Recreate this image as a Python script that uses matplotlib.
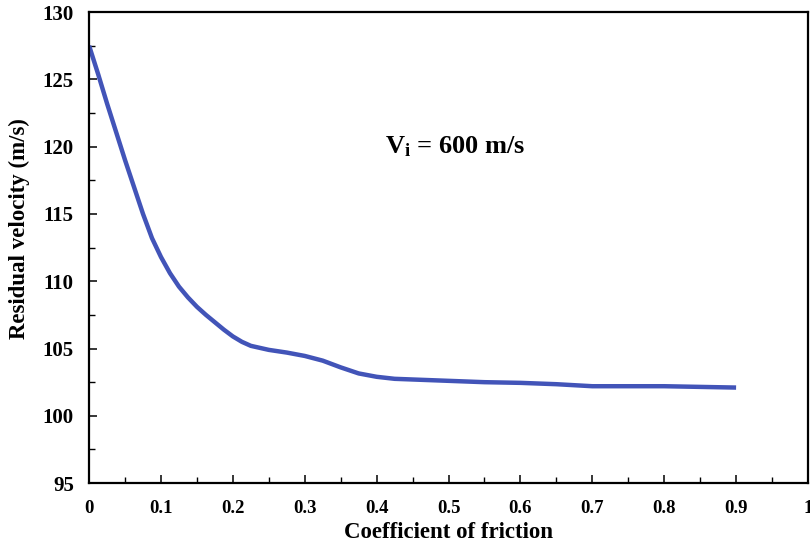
import matplotlib
matplotlib.use("Agg")
import matplotlib.pyplot as plt
from matplotlib.ticker import MultipleLocator

plt.rcParams["font.family"] = ["Liberation Serif", "DejaVu Serif"]
plt.rcParams["font.weight"] = "bold"
plt.rcParams["mathtext.fontset"] = "custom"
plt.rcParams["mathtext.rm"] = "Liberation Serif:bold"
plt.rcParams["mathtext.bf"] = "Liberation Serif:bold"

# values
friction = [0, 0.0125, 0.025, 0.0375, 0.05, 0.0625, 0.075, 0.0875, 0.1, 0.1125,
            0.125, 0.1375, 0.15, 0.1625, 0.175, 0.1875, 0.2, 0.2125, 0.225, 0.25,
            0.275, 0.3, 0.325, 0.35, 0.375, 0.4, 0.425, 0.45, 0.5, 0.55,
            0.6, 0.65, 0.7, 0.75, 0.8, 0.85, 0.9]
residual = [127.5, 125.4, 123.2, 121.1, 119.0, 117.0, 115.0, 113.2, 111.8, 110.6,
            109.6, 108.8, 108.1, 107.5, 106.95, 106.4, 105.9, 105.5, 105.2, 104.9,
            104.7, 104.45, 104.1, 103.6, 103.15, 102.9, 102.75, 102.7, 102.6, 102.5,
            102.45, 102.35, 102.2, 102.2, 102.2, 102.15, 102.1]

x_ticks = [0, 0.1, 0.2, 0.3, 0.4, 0.5, 0.6, 0.7, 0.8, 0.9, 1]
x_labels = ["0", "0.1", "0.2", "0.3", "0.4", "0.5", "0.6", "0.7", "0.8", "0.9", "1"]
y_ticks = [95, 100, 105, 110, 115, 120, 125, 130]

BLUE = "#4254b8"

fig = plt.figure(figsize=(8.1, 5.49), dpi=100, facecolor="white")
ax = fig.add_axes([0.110, 0.120, 0.8875, 0.858])

ax.plot(friction, residual, color=BLUE, lw=3.2, solid_capstyle="butt",
        solid_joinstyle="round")

ax.set_xlim(0, 1)
ax.set_ylim(95, 130)
ax.set_xticks(x_ticks)
ax.set_xticklabels(x_labels)
ax.set_yticks(y_ticks)
ax.xaxis.set_minor_locator(MultipleLocator(0.05))
ax.yaxis.set_minor_locator(MultipleLocator(2.5))

ax.tick_params(axis="both", which="major", direction="in", length=6, width=1.1)
ax.tick_params(axis="both", which="minor", direction="in", length=4, width=1.0)
ax.tick_params(axis="x", which="major", labelsize=13.5, pad=12)
ax.tick_params(axis="y", which="major", labelsize=15, pad=11)
for s in ax.spines.values():
    s.set_linewidth(1.6)

ax.set_xlabel("Coefficient of friction", fontsize=16.5, fontweight="bold")
ax.set_ylabel("Residual velocity (m/s)", fontsize=16.5, fontweight="bold")
ax.xaxis.set_label_coords(0.5, -0.082)
ax.yaxis.set_label_coords(-0.082, 0.541)

ax.text(0.412, 119.5, r"$\mathbf{V_i}$ = 600 m/s", fontsize=19,
        fontweight="bold", ha="left", va="baseline")

fig.savefig("out.png", dpi=100, facecolor="white")
